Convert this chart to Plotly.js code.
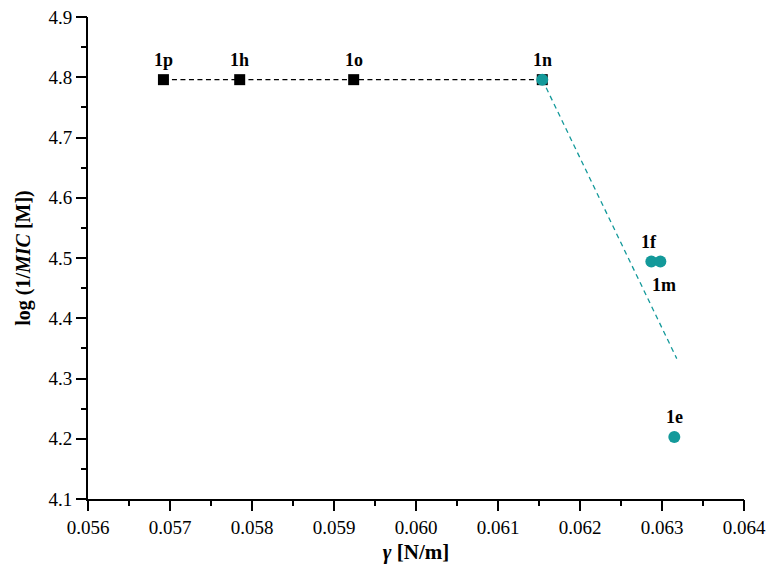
<!DOCTYPE html>
<html>
<head>
<meta charset="utf-8">
<script src="https://cdn.plot.ly/plotly-3.0.1.min.js"></script>
<style>html,body{margin:0;padding:0;background:#fff;}#chart{width:773px;height:579px;}</style>
</head>
<body>
<div id="chart"></div>
<script>
// Black series (squares)
const blackLabels = ["1p", "1h", "1o", "1n"];
const blackX = [0.05692, 0.05785, 0.05924, 0.06154];
const blackY = [4.796, 4.796, 4.796, 4.796];

// Teal series (circles)
const tealLabels = ["1n", "1f", "1m", "1e"];
const tealX = [0.06154, 0.06287, 0.06298, 0.06315];
const tealY = [4.796, 4.494, 4.494, 4.203];

// Teal dashed trend line
const trendX = [0.06154, 0.06318];
const trendY = [4.796, 4.333];

// Tick labels
const xTickVals = [0.056, 0.057, 0.058, 0.059, 0.060, 0.061, 0.062, 0.063, 0.064];
const xTickText = ["0.056", "0.057", "0.058", "0.059", "0.060", "0.061", "0.062", "0.063", "0.064"];
const yTickVals = [4.1, 4.2, 4.3, 4.4, 4.5, 4.6, 4.7, 4.8, 4.9];
const yTickText = ["4.1", "4.2", "4.3", "4.4", "4.5", "4.6", "4.7", "4.8", "4.9"];

// label placement: +1 above, -1 below, 0 none
const blackLabelSide = [1, 1, 1, 1];
const tealLabelSide = [0, 1, -1, 1];

const teal = "#13999a";
const serif = "Liberation Serif";

const traces = [
  {
    x: trendX, y: trendY, xaxis: "x2", yaxis: "y2", mode: "markers", type: "scatter",
    marker: {opacity: 0}, hoverinfo: "skip", showlegend: false
  },
  {
    x: blackX, y: blackY, mode: "lines+markers", type: "scatter",
    line: {color: "#000", width: 1.3, dash: "5px,3.5px"},
    marker: {symbol: "square", size: 11, color: "#000"},
    hoverinfo: "skip", showlegend: false
  },
  {
    x: trendX, y: trendY, mode: "lines", type: "scatter",
    line: {color: teal, width: 1.3, dash: "5px,4px"},
    hoverinfo: "skip", showlegend: false
  },
  {
    x: tealX, y: tealY, mode: "markers", type: "scatter",
    marker: {symbol: "circle", size: 12, color: teal},
    hoverinfo: "skip", showlegend: false
  }
];

const annotations = [];
blackX.forEach((x, i) => {
  if (!blackLabelSide[i]) return;
  annotations.push({x: x, y: blackY[i], text: "<b>" + blackLabels[i] + "</b>", showarrow: false,
    yshift: 20 * blackLabelSide[i], font: {family: serif, size: 18, color: "#000"}});
});
tealX.forEach((x, i) => {
  if (!tealLabelSide[i]) return;
  annotations.push({x: x, y: tealY[i], text: "<b>" + tealLabels[i] + "</b>", showarrow: false,
    yshift: tealLabelSide[i] > 0 ? 20 : -23, xshift: i === 1 ? -2 : (i === 2 ? 4 : 0),
    font: {family: serif, size: 18, color: "#000"}});
});

const layout = {
  width: 773, height: 579,
  margin: {l: 88, r: 29, t: 17, b: 80},
  paper_bgcolor: "#fff", plot_bgcolor: "#fff",
  font: {family: serif, size: 18, color: "#000"},
  annotations: annotations,
  xaxis: {
    range: [0.056, 0.064], tickmode: "array", tickvals: xTickVals, ticktext: xTickText,
    showgrid: false, zeroline: false,
    showline: true, linecolor: "#000", linewidth: 2,
    ticks: "outside", ticklen: 10, tickwidth: 2, tickcolor: "#000",
    tickfont: {family: serif, size: 19, color: "#000"},
    title: {text: "<b><i>γ</i> [N/m]</b>", font: {family: serif, size: 21}, standoff: 8}
  },
  yaxis: {
    range: [4.1, 4.9], tickmode: "array", tickvals: yTickVals, ticktext: yTickText,
    showgrid: false, zeroline: false,
    showline: true, linecolor: "#000", linewidth: 2,
    ticks: "outside", ticklen: 10, tickwidth: 2, tickcolor: "#000",
    tickfont: {family: serif, size: 19, color: "#000"},
    title: {text: "<b>log (1/<i>MIC</i> [M])</b>", font: {family: serif, size: 20}, standoff: 12}
  },
  xaxis2: {
    overlaying: "x", anchor: "y", side: "bottom", range: [0.056, 0.064],
    tick0: 0.056, dtick: 0.0005, ticks: "outside", ticklen: 6, tickwidth: 2, tickcolor: "#000",
    showticklabels: false, showgrid: false, zeroline: false, showline: false
  },
  yaxis2: {
    overlaying: "y", anchor: "x", side: "left", range: [4.1, 4.9],
    tick0: 4.1, dtick: 0.05, ticks: "outside", ticklen: 6, tickwidth: 2, tickcolor: "#000",
    showticklabels: false, showgrid: false, zeroline: false, showline: false
  }
};

Plotly.newPlot("chart", traces, layout, {displayModeBar: false, staticPlot: true});
</script>
</body>
</html>
